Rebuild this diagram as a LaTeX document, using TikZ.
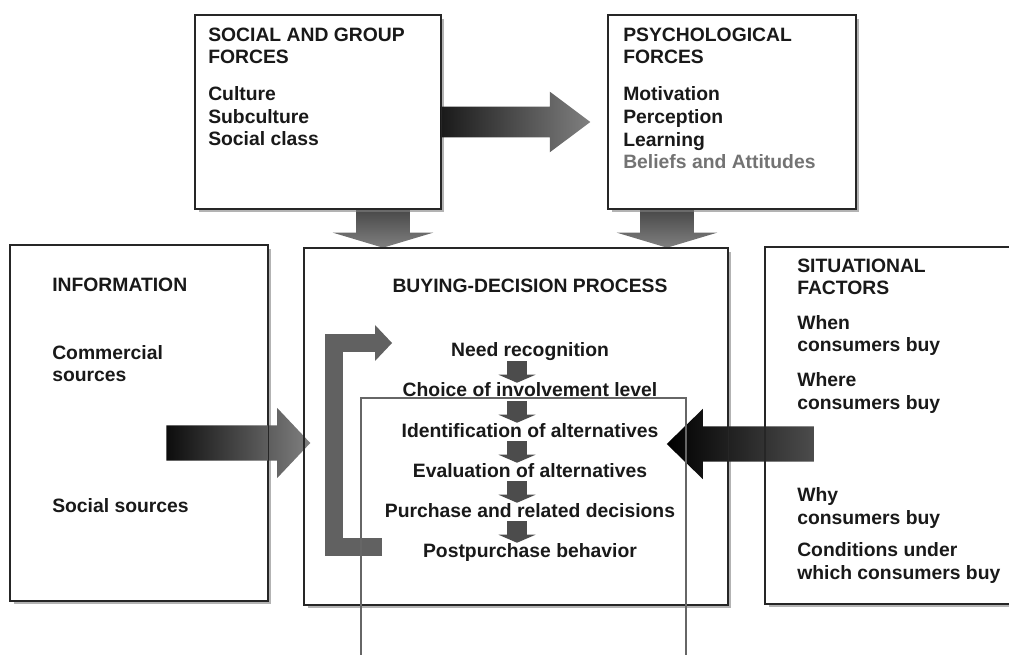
\documentclass[tikz,border=0pt]{standalone}
\usepackage{fontspec}
\setmainfont{Liberation Sans}
\usetikzlibrary{shapes.arrows,shadows,arrows.meta,calc}

\tikzset{
  box/.style={draw=black!85, line width=0.9pt, fill=white, inner sep=0pt, anchor=north west,
    drop shadow={shadow xshift=2.5pt, shadow yshift=-2.5pt, fill=black!50, opacity=0.6}},
  boxline/.style={draw=black!85, line width=0.9pt},
  txt/.style={inner sep=0pt, anchor=base west, align=left, text=black!90,
    font=\bfseries\fontsize{14.5}{17}\selectfont},
  stepbox/.style={inner sep=0pt, anchor=base, text height=10.5pt, text depth=3pt, text=black!90,
    font=\bfseries\fontsize{14.5}{17}\selectfont},
  fatarrow/.style={single arrow, anchor=tail, draw=none, minimum width=0pt},
  steparrow/.style={line width=15pt, draw=black!70, -{Triangle[width=27.75pt,length=6pt,line width=0pt]}},
  feedback/.style={line width=13.5pt, draw=black!62, line join=miter,
    -{Triangle[width=27pt,length=12.75pt,line width=0pt]}},
  graybox/.style={draw=black!60, line width=2.2pt}
}

\begin{document}
\begin{tikzpicture}[x=0.75pt,y=0.75pt,yscale=-1,xscale=1]
  \useasboundingbox (0,0) rectangle (1009,655);
  \clip (0,0) rectangle (1009,655);

  % down arrows, tails hidden under the upper boxes
  \node[fatarrow, anchor=tip, shape border rotate=270, inner sep=19.9pt,
    single arrow head extend=17.6pt, single arrow tip angle=146.6, top color=black!85,
    bottom color=black!50] (socdown) at (383,248) {};
  \node[fatarrow, anchor=tip, shape border rotate=270, inner sep=19.9pt,
    single arrow head extend=17.6pt, single arrow tip angle=146.6, top color=black!85,
    bottom color=black!50] (psydown) at (667,248) {};

  % boxes
  \node[box, minimum width=183.75pt, minimum height=144.75pt] (social) at (195,15) {};
  \node[box, minimum width=185.25pt, minimum height=144.75pt] (psych) at (608,15) {};
  \node[box, minimum width=192.75pt, minimum height=266.25pt] (info) at (10,245) {};
  \node[box, minimum width=317.25pt, minimum height=267pt] (buying) at (304,248) {};
  \node[box, minimum width=195pt, minimum height=267pt] (situ) at (765,247) {};

  % side arrows
  \node[fatarrow, minimum height=112.5pt, inner xsep=0pt, inner ysep=11.25pt, single arrow head extend=11.25pt,
    single arrow tip angle=73.7, left color=black!90, right color=black!50] (socpsy) at (440,122) {};
  \node[fatarrow, minimum height=108pt, inner xsep=0pt, inner ysep=13.1pt, single arrow head extend=13.1pt,
    single arrow tip angle=93.3, left color=black!95, right color=black!50] (infoarrow) at (166,443) {};
  \node[fatarrow, shape border rotate=180, minimum height=111pt, inner xsep=0pt, inner ysep=13.1pt,
    single arrow head extend=13.1pt, single arrow tip angle=88.4, left color=black,
    right color=black!70] (situarrow) at (815,444) {};

  % box texts
  \node[txt] (socialtitle) at (208,64) {SOCIAL AND GROUP\\FORCES};
  \node[txt] (sociallist) at (208,146) {Culture\\Subculture\\Social class};
  \node[txt] (psychtitle) at (623,64) {PSYCHOLOGICAL\\FORCES};
  \node[txt] (psychlist) at (623,169) {Motivation\\Perception\\Learning\\\textcolor{black!55}{Beliefs and Attitudes}};
  \node[txt] (infotitle) at (52,292) {INFORMATION};
  \node[txt] (infocomm) at (52,382) {Commercial\\sources};
  \node[txt] (infosocial) at (52,512) {Social sources};
  \node[txt, anchor=base] (buyingtitle) at (530,293) {BUYING-DECISION PROCESS};
  \node[txt] (situtitle) at (797,295) {SITUATIONAL\\FACTORS};
  \node[txt] (situwhen) at (797,352) {When\\consumers buy};
  \node[txt] (situwhere) at (797,409) {Where\\consumers buy};
  \node[txt] (situwhy) at (797,524) {Why\\consumers buy};
  \node[txt] (situcond) at (797,579) {Conditions under\\which consumers buy};

  % process steps
  \node[stepbox] (s1) at (530,357) {Need recognition};
  \node[stepbox] (s2) at (530,397) {Choice of involvement level};
  \node[stepbox] (s3) at (530,437) {Identification of alternatives};
  \node[stepbox] (s4) at (530,477) {Evaluation of alternatives};
  \node[stepbox] (s5) at (530,517) {Purchase and related decisions};
  \node[stepbox] (s6) at (530,557) {Postpurchase behavior};

  \draw[steparrow] ($(s1.south)+(-13,0)$) -- ($(s2.north)+(-13,0)$);
  \draw[steparrow] ($(s2.south)+(-13,0)$) -- ($(s3.north)+(-13,0)$);
  \draw[steparrow] ($(s3.south)+(-13,0)$) -- ($(s4.north)+(-13,0)$);
  \draw[steparrow] ($(s4.south)+(-13,0)$) -- ($(s5.north)+(-13,0)$);
  \draw[steparrow] ($(s5.south)+(-13,0)$) -- ($(s6.north)+(-13,0)$);

  % feedback loop
  \coordinate (fbstart) at (382,546.5);
  \coordinate (fbend) at (392,343);
  \draw[feedback] (fbstart) -| (334,343) -- (fbend);

  % borders on top
  \foreach \b in {social,psych,info,buying,situ}
    \draw[boxline] (\b.north west) rectangle (\b.south east);

  \draw[graybox] (361,398) rectangle (686,680);
\end{tikzpicture}
\end{document}
